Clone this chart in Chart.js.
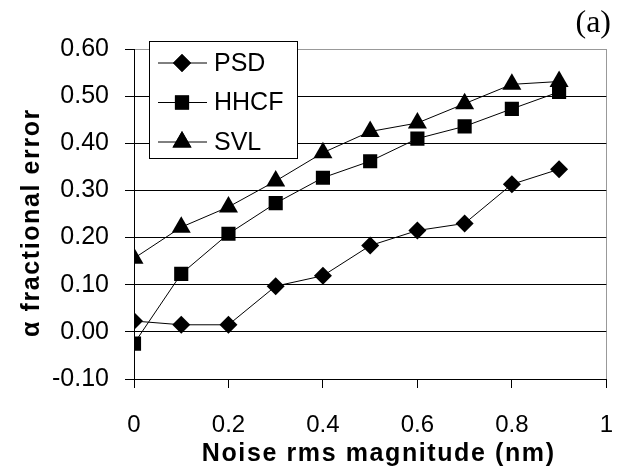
<!DOCTYPE html>
<html>
<head>
<meta charset="utf-8">
<script src="https://cdn.jsdelivr.net/npm/chart.js@4/dist/chart.umd.min.js"></script>
<style>
  html, body { margin: 0; padding: 0; background: #fff; }
  canvas { display: block; }
</style>
</head>
<body>
<canvas id="noiseChart" width="636" height="473"></canvas>
<script>
// values
const noise = [0, 0.1, 0.2, 0.3, 0.4, 0.5, 0.6, 0.7, 0.8, 0.9];
const psd  = [0.023, 0.015, 0.015, 0.097, 0.119, 0.183, 0.215, 0.230, 0.313, 0.345];
const hhcf = [-0.025, 0.123, 0.208, 0.273, 0.327, 0.362, 0.410, 0.436, 0.473, 0.509];
const svl  = [0.156, 0.222, 0.265, 0.320, 0.380, 0.425, 0.443, 0.484, 0.525, 0.531];
const seriesNames = ["PSD", "HHCF", "SVL"];
const markerStyles = ["rectRot", "rect", "triangle"];
const markerSizes = [9, 10, 11];
const panelTag = "(a)";

const SANS = "'Liberation Sans', Arial, sans-serif";

function pairs(ys) {
  return noise.map((x, i) => ({ x, y: ys[i] }));
}

const datasets = [psd, hhcf, svl].map((vals, i) => ({
  label: seriesNames[i],
  data: pairs(vals),
  borderColor: "#000",
  borderWidth: 1,
  backgroundColor: "#000",
  pointStyle: markerStyles[i],
  pointRadius: markerSizes[i],
  pointBackgroundColor: "#000",
  pointBorderColor: "#000",
  pointBorderWidth: 0,
  tension: 0,
}));

// axis titles in the source are drawn a little letter-spaced
const titleSpacing = {
  id: "titleSpacing",
  beforeDraw(chart) {
    Object.values(chart.scales).forEach((scale) => {
      if (scale._spaced) return;
      const orig = scale.drawTitle;
      scale.drawTitle = function () {
        const ctx = this.ctx;
        ctx.save();
        ctx.letterSpacing = "1.6px";
        orig.apply(this, arguments);
        ctx.restore();
      };
      scale._spaced = true;
    });
  },
};

// boxed legend inside the plot + panel tag
const boxLegend = {
  id: "boxLegend",
  afterDraw(chart) {
    const ctx = chart.ctx;
    ctx.save();
    ctx.fillStyle = "#fff";
    ctx.fillRect(149, 41, 148, 117);
    ctx.strokeStyle = "#000";
    ctx.lineWidth = 1;
    ctx.strokeRect(149.5, 41.5, 148, 117);
    chart.data.datasets.forEach((ds, i) => {
      const y = 63 + i * 39.5;
      ctx.beginPath();
      ctx.moveTo(158, y);
      ctx.lineTo(207, y);
      ctx.strokeStyle = "#000";
      ctx.stroke();
      ctx.fillStyle = "#000";
      Chart.helpers.drawPoint(ctx, {
        pointStyle: ds.pointStyle,
        radius: ds.pointRadius,
        borderWidth: 0,
        rotation: 0,
      }, 182, y);
      ctx.fill();
      ctx.font = "25px " + SANS;
      ctx.textBaseline = "middle";
      ctx.textAlign = "left";
      ctx.fillText(ds.label, 214, y + 1);
    });
    ctx.font = "32px 'Liberation Serif', 'Times New Roman', serif";
    ctx.textAlign = "right";
    ctx.textBaseline = "alphabetic";
    ctx.fillText(panelTag, 611, 32);
    ctx.restore();
  },
};

new Chart(document.getElementById("noiseChart"), {
  type: "line",
  data: { datasets },
  options: {
    responsive: false,
    animation: false,
    devicePixelRatio: 1,
    layout: { padding: { top: 49, right: 6, left: 0, bottom: 0 } },
    plugins: {
      legend: { display: false },
      tooltip: { enabled: false },
    },
    scales: {
      x: {
        type: "linear",
        min: 0,
        max: 1,
        afterFit(scale) { scale.height = 94; },
        ticks: {
          stepSize: 0.2,
          color: "#000",
          padding: 23,
          font: { family: SANS, size: 24 },
          callback: (v) => String(+v.toFixed(1)),
        },
        grid: {
          drawOnChartArea: true,
          color: (c) => (c.tick && c.tick.value === 1 ? "#999" : "rgba(0,0,0,0)"),
          tickColor: "#000",
          tickLength: 9,
        },
        border: { color: "#000", width: 1 },
        title: {
          display: true,
          text: "  Noise rms magnitude (nm)",
          color: "#000",
          font: { family: SANS, size: 25, weight: "bold" },
          padding: { top: 0, bottom: 4 },
        },
      },
      y: {
        min: -0.1,
        max: 0.6,
        afterFit(scale) { scale.width = 134; },
        ticks: {
          stepSize: 0.1,
          color: "#000",
          padding: 16,
          font: { family: SANS, size: 25 },
          callback: (v) => (Math.abs(v) < 1e-9 ? 0 : v).toFixed(2),
        },
        grid: {
          color: (c) => (c.tick && Math.abs(c.tick.value - 0.6) < 1e-6 ? "#999" : "#000"),
          tickColor: "#000",
          tickLength: 9,
        },
        border: { color: "#000", width: 1 },
        title: {
          display: true,
          text: "α fractional error  ",
          color: "#000",
          font: { family: SANS, size: 25, weight: "bold" },
          padding: { top: 17, bottom: 0 },
        },
      },
    },
  },
  plugins: [titleSpacing, boxLegend],
});
</script>
</body>
</html>
